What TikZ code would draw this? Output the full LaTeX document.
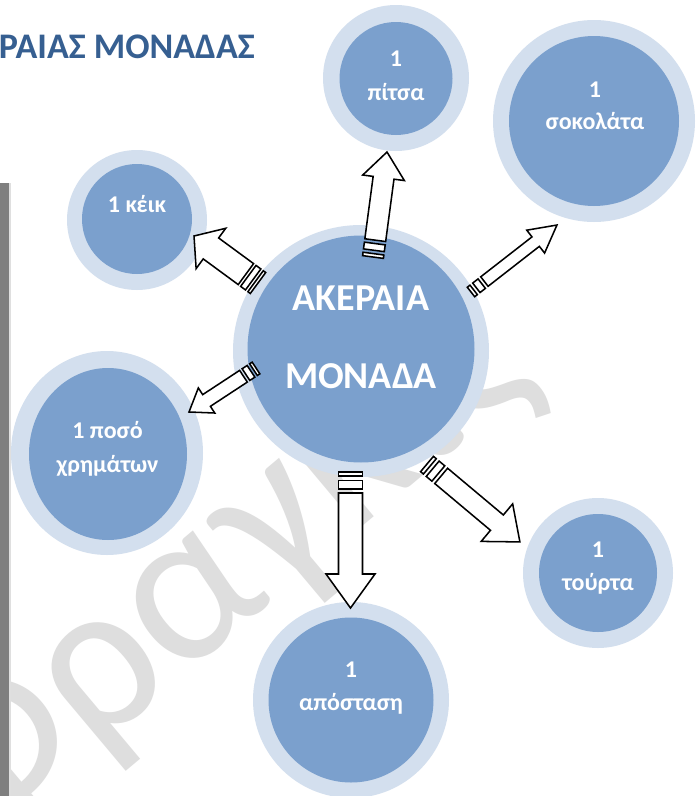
\documentclass[tikz,border=0pt]{standalone}
\usepackage{fontspec}
\setmainfont{Carlito}
\usetikzlibrary{calc,shapes.geometric}
\definecolor{ringc}{HTML}{D3DFEE}
\definecolor{corec}{HTML}{7BA0CD}
\definecolor{titlec}{HTML}{365F91}
\definecolor{barc}{HTML}{7F7F7F}
\definecolor{wmc}{HTML}{DEDEDE}
% #1 tail, #2 tip, #3 shaft width, #4 head width, #5 head length, #6 stripe unit (px)
\newcommand\stripedarrow[6]{%
  \path let \p1=($(#2)-(#1)$) in
    \pgfextra{\pgfmathsetmacro\saang{atan2(\y1,\x1)}%
              \pgfmathsetmacro\salen{veclen(\x1,\y1)/0.75}%
              \global\let\saangG\saang \global\let\salenG\salen};
  \begin{scope}[shift={(#1)}, rotate=\saangG, x=0.75pt, y=0.75pt]
    \pgfmathsetmacro\sas{#3/2}\pgfmathsetmacro\sah{#4/2}%
    \pgfmathsetmacro\sab{\salenG-#5}%
    \draw[blockarrow] (0,-\sas) rectangle (#6,\sas);
    \draw[blockarrow] (2*#6,-\sas) rectangle (4*#6,\sas);
    \draw[blockarrow] (5*#6,-\sas) -- (\sab,-\sas) -- (\sab,-\sah) -- (\salenG,0)
      -- (\sab,\sah) -- (\sab,\sas) -- (5*#6,\sas) -- cycle;
  \end{scope}}
\begin{document}
\begin{tikzpicture}[x=0.75pt,y=-0.75pt,
  ring/.style 2 args={ellipse, fill=ringc, draw=none, inner sep=0pt,
    minimum width=#1*1.5pt, minimum height=#2*1.5pt},
  core/.style 2 args={ellipse, fill=corec, draw=none, inner sep=0pt,
    minimum width=#1*1.5pt, minimum height=#2*1.5pt},
  lbl/.style={text=white, font=\bfseries\fontsize{18}{20}\selectfont, anchor=base, inner sep=0pt},
  biglbl/.style={text=white, font=\bfseries\fontsize{28.5}{30}\selectfont, anchor=base, inner sep=0pt},
  blockarrow/.style={draw=black, fill=white, line width=1.15pt, line join=miter}]
\useasboundingbox (0,0) rectangle (699,796);
\clip (0,0) rectangle (699,796);
\fill[white] (0,0) rectangle (699,796);
% watermark
\node[text=wmc, font=\fontsize{165}{165}\selectfont, rotate=40, anchor=base west, inner sep=0pt] (wm) at (-35,860) {Φραγκίς};
% left bar
\fill[barc] (0,183) rectangle (9,796);
\fill[gray!25] (9,183) rectangle (10.5,796);
% title
\node[text=titlec, font=\bfseries\fontsize{27}{30}\selectfont, anchor=base east, inner sep=0pt] (title) at (255,58) {ΡΑΙΑΣ ΜΟΝΑΔΑΣ};
% circles
\node[ring={128}{126}] (mainR) at (361,351) {};
\node[core={113.5}{113.5}] (main) at (361,349) {};
\node[ring={73}{73}] (pizzaR) at (396,78) {};
\node[core={56.5}{56.5}] (pizza) at (396,78.5) {};
\node[ring={101}{101}] (chocR) at (594,121) {};
\node[core={85}{85}] (choc) at (594,121) {};
\node[ring={70}{70}] (cakeR) at (137,220) {};
\node[core={55}{55}] (cake) at (137,219) {};
\node[ring={96}{102}] (moneyR) at (107,453) {};
\node[core={79}{86}] (money) at (108,454) {};
\node[ring={98}{98}] (distR) at (351,700) {};
\node[core={82.5}{82.5}] (dist) at (351,700) {};
\node[ring={75}{75}] (tortR) at (598,573) {};
\node[core={59}{59}] (tort) at (598,573) {};
% labels
\node[biglbl] (mainA) at (361,310) {ΑΚΕΡΑΙΑ};
\node[biglbl] (mainB) at (361,388) {ΜΟΝΑΔΑ};
\node[lbl] (pizzaA) at (396,66.7) {1};
\node[lbl] (pizzaB) at (396,100) {πίτσα};
\node[lbl] (chocA) at (595,97) {1};
\node[lbl] (chocB) at (595,129) {σοκολάτα};
\node[lbl] (cakeA) at (137,212) {1 κέικ};
\node[lbl] (moneyA) at (107.5,438) {1 ποσό};
\node[lbl] (moneyB) at (107.5,472) {χρημάτων};
\node[lbl] (distA) at (351,677) {1};
\node[lbl] (distB) at (351,710) {απόσταση};
\node[lbl] (tortA) at (598,557) {1};
\node[lbl] (tortB) at (598,590) {τούρτα};
% arrow ends
\coordinate (pizzaTail) at (373,257);  \coordinate (pizzaTip) at (387,152);
\coordinate (chocTail) at (471,292);   \coordinate (chocTip) at (557,225);
\coordinate (cakeTail) at (258,283);   \coordinate (cakeTip) at (194,236);
\coordinate (moneyTail) at (256,368);  \coordinate (moneyTip) at (189,412);
\coordinate (tortTail) at (427,464);   \coordinate (tortTip) at (520,542);
\coordinate (distTail) at (350.5,472); \coordinate (distTip) at (350.5,608);
\stripedarrow{pizzaTail}{pizzaTip}{21}{42}{26}{3.4}
\stripedarrow{chocTail}{chocTip}{12}{29}{27}{3.4}
\stripedarrow{cakeTail}{cakeTip}{26}{50}{21}{3}
\stripedarrow{moneyTail}{moneyTip}{14}{30}{21}{3}
\stripedarrow{tortTail}{tortTip}{20}{49}{30}{3.7}
\stripedarrow{distTail}{distTip}{24}{49}{34}{4.2}
\end{tikzpicture}
\end{document}
